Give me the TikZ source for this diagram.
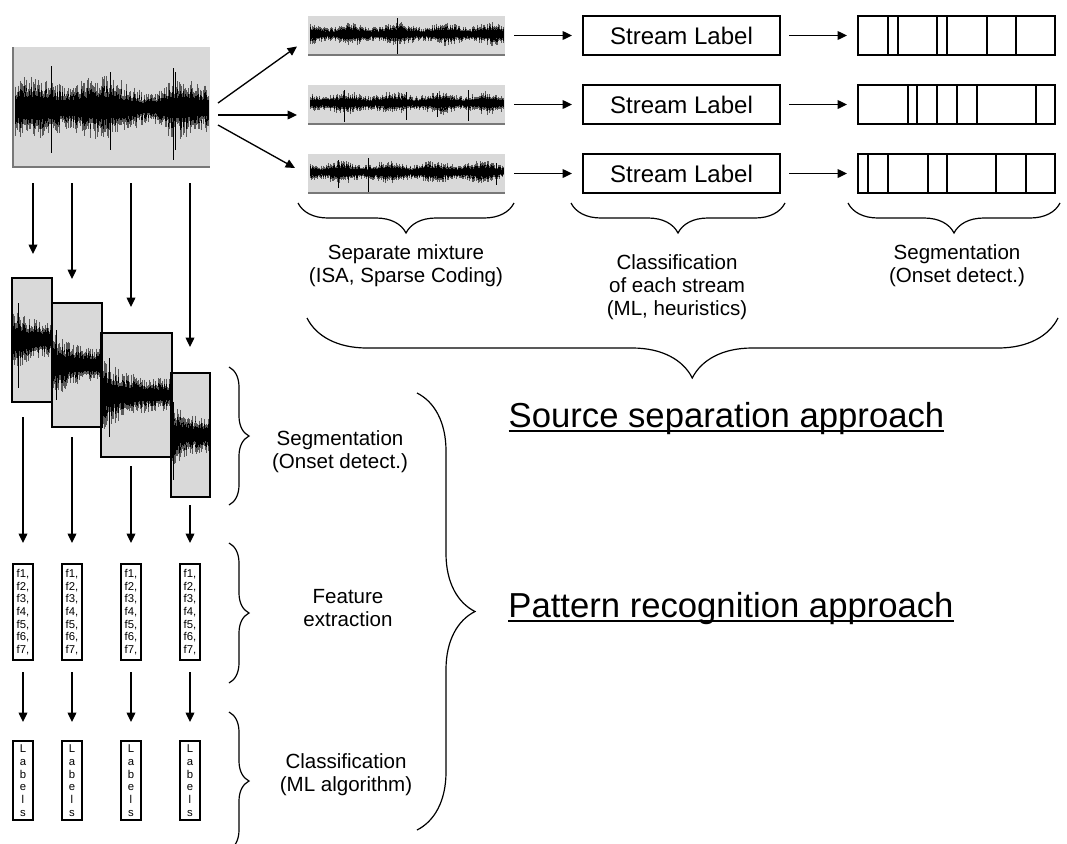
\documentclass[tikz,border=0pt]{standalone}
\usepackage{fontspec}
\setmainfont{Liberation Sans}
\usetikzlibrary{arrows.meta,decorations.pathreplacing}
\definecolor{panel}{RGB}{217,217,217}
\definecolor{rim}{RGB}{120,120,120}

% random audio trace: x0, x1, centre y, amplitude, strokes, seed, envelope (in \wt)
\newcommand\audiotrace[7]{%
  \pgfmathsetseed{#6}%
  \foreach \k in {0,...,#5}{%
    \pgfmathsetmacro\wt{\k/#5}%
    \pgfmathsetmacro\wx{#1+(#2-#1)*\wt}%
    \pgfmathsetmacro\we{#7}%
    \pgfmathsetmacro\wr{rnd}%
    \pgfmathsetmacro\wu{#4*\we*(0.45+0.55*\wr*sqrt(\wr))}%
    \pgfmathsetmacro\wr{rnd}%
    \pgfmathsetmacro\wd{#4*\we*(0.45+0.55*\wr*sqrt(\wr))}%
    \draw[tracesoft] (\wx,#3-\wu) -- (\wx,#3+\wd);%
    \draw[trace] (\wx,#3-0.7*\wu) -- (\wx,#3+0.7*\wd);%
  }%
}

\begin{document}
\begin{tikzpicture}[x=0.75pt,y=-0.75pt,
  every node/.style={inner sep=0pt,outer sep=0pt},
  trace/.style={line width=0.55pt},
  tracesoft/.style={line width=0.55pt,black!65},
  panelbox/.style={fill=panel,anchor=north west},
  framebox/.style={draw,line width=1.1pt,anchor=north west},
  arr/.style={line width=1pt,-{Triangle[length=7pt,width=6.5pt]}},
  brc/.style={decorate,decoration={brace,amplitude=#1},line width=0.9pt},
  midtext/.style={align=center,font=\fontsize{15.4}{17.3}\selectfont},
  labeltext/.style={font=\fontsize{18}{21}\selectfont},
  bigtext/.style={font=\fontsize{26}{30}\selectfont,anchor=base},
  tinytext/.style={align=center,font=\fontsize{8.5}{9.5}\selectfont},
  divider/.style={line width=0.9pt}
]
\useasboundingbox (0,0) rectangle (1067,843);

% ---------- the mixture ----------
\node[panelbox,minimum width=147.75pt,minimum height=90pt] (main) at (13,47) {};
\begin{scope}
  \clip (main.south west) rectangle (main.north east);
  \audiotrace{15}{208}{108}{34}{280}{11}{0.85+0.15*sin(\wt*1000)-0.4*exp(-min((\wt-0.72)*(\wt-0.72)/0.0064,9))}
  \draw[trace] (51,66) -- (51,153);
  \draw[trace] (110,72) -- (110,150);
  \draw[trace] (173,68) -- (173,160);
  \draw[trace] (175,72) -- (175,150);
\end{scope}
\draw[rim,line width=1pt] (main.north west) -- (main.south west) -- (main.south east);

% ---------- separated streams ----------
\foreach \i/\y/\s in {1/16/21,2/85/22,3/154/23}{
  \node[panelbox,minimum width=147.75pt,minimum height=29.25pt] (s\i) at (308,\y) {};
  \begin{scope}
    \clip (s\i.south west) rectangle (s\i.north east);
    \pgfmathsetmacro\yc{\y+18}
    \audiotrace{310}{503}{\yc}{12}{280}{\s}{0.8+0.2*sin(\wt*1500+\s*40)}
  \end{scope}
  \draw[rim,line width=1pt] (s\i.south west) -- (s\i.south east);
}
\begin{scope}
  \clip (s1.south west) rectangle (s1.north east);
  \draw[trace] (397,18) -- (397,54);
\end{scope}
\begin{scope}
  \clip (s2.south west) rectangle (s2.north east);
  \draw[trace] (344,90) -- (344,122);
  \draw[trace] (406,92) -- (406,120);
  \draw[trace] (437,93) -- (437,117);
  \draw[trace] (468,90) -- (468,121);
\end{scope}
\begin{scope}
  \clip (s3.south west) rectangle (s3.north east);
  \draw[trace] (338,160) -- (338,188);
  \draw[trace] (368,158) -- (368,192);
  \draw[trace] (496,163) -- (496,185);
\end{scope}

% ---------- stream labels ----------
\foreach \i/\y in {1/16,2/85,3/154}{
  \node[framebox,labeltext,minimum width=147.75pt,minimum height=29.25pt] (l\i) at (583,\y) {Stream Label};
}

% ---------- segmented streams ----------
\foreach \i/\y in {1/16,2/85,3/154}{
  \node[framebox,minimum width=147.75pt,minimum height=29.25pt] (g\i) at (858,\y) {};
}
\foreach \x in {888,898,937,947,987,1016} \draw[divider] (\x,16) -- (\x,55);
\foreach \x in {908,917,937,957,977,1036} \draw[divider] (\x,85) -- (\x,124);
\foreach \x in {868,888,928,947,996,1026} \draw[divider] (\x,154) -- (\x,193);

% ---------- arrows of the separation path ----------
\draw[arr] ([shift={(8,-4)}]main.east) -- ([shift={(-11,11)}]s1.west);
\draw[arr] ([shift={(8,8)}]main.east) -- ([shift={(-11,10.5)}]s2.west);
\draw[arr] ([shift={(8,18)}]main.east) -- ([shift={(-13,-5.5)}]s3.west);
\foreach \i in {1,2,3}{
  \draw[arr,shorten <=6.75pt,shorten >=8.25pt] (s\i.east) -- (l\i.west);
  \draw[arr,shorten <=6.75pt,shorten >=8.25pt] (l\i.east) -- (g\i.west);
}

% ---------- braces and captions of the separation path ----------
\draw[brc=22.5pt] (514,203) -- (298,203);
\draw[brc=22.5pt] (785,203) -- (571,203);
\draw[brc=22.5pt] (1060,203) -- (848,203);
\node[midtext] (capsep) at (406,266) {Separate mixture\\(ISA, Sparse Coding)};
\node[midtext] (capcls) at (677,287) {Classification\\of each stream\\(ML, heuristics)};
\node[midtext] (capseg) at (957,266) {Segmentation\\(Onset detect.)};
\draw[brc=45pt,decoration={aspect=0.487}] (1058,318) -- (307,318);
\node[bigtext] (srcsep) at (726.5,427) {Source separation approach};
\draw[line width=1.6pt] ([yshift=-3.2pt]srcsep.base west) -- ([yshift=-3.2pt]srcsep.base east);

% ---------- onset segments ----------
\node[panelbox,minimum width=30pt,minimum height=93pt] (seg1) at (12,278) {};
\node[panelbox,minimum width=37.5pt,minimum height=93pt] (seg2) at (52,303) {};
\node[panelbox,minimum width=53.25pt,minimum height=93pt] (seg3) at (101,333) {};
\node[panelbox,minimum width=29.25pt,minimum height=93pt] (seg4) at (171,373) {};
\begin{scope}
  \clip (seg1.south west) rectangle (seg1.north east);
  \audiotrace{13}{51}{340}{38}{55}{31}{0.45+0.55*exp(-3*\wt)}
  \draw[trace] (18,303) -- (18,388);
\end{scope}
\begin{scope}
  \clip (seg2.south west) rectangle (seg2.north east);
  \audiotrace{53}{101}{365}{36}{70}{32}{0.45+0.55*exp(-3*\wt)}
  \draw[trace] (56,330) -- (56,400);
\end{scope}
\begin{scope}
  \clip (seg3.south west) rectangle (seg3.north east);
  \audiotrace{102}{171}{395}{38}{100}{33}{0.4+0.6*exp(-3*\wt)}
  \draw[trace] (109,358) -- (109,437);
\end{scope}
\begin{scope}
  \clip (seg4.south west) rectangle (seg4.north east);
  \audiotrace{172}{209}{435}{34}{55}{34}{0.5+0.5*exp(-3*\wt)}
  \draw[trace] (173,402) -- (173,480);
\end{scope}
\foreach \i in {1,...,4}{
  \draw[line width=1.1pt] (seg\i.south west) rectangle (seg\i.north east);
}

% ---------- feature vectors and labels ----------
\foreach \i/\x in {1/13,2/62,3/121,4/180}{
  \node[framebox,tinytext,minimum width=15pt,minimum height=72pt,line width=1pt] (f\i) at (\x,564)
    {f1,\\f2,\\f3,\\f4,\\f5,\\f6,\\f7,};
  \node[framebox,tinytext,minimum width=15pt,minimum height=59.25pt,line width=1pt] (b\i) at (\x,741)
    {L\\a\\b\\e\\l\\s};
}

% ---------- arrows of the recognition path ----------
\coordinate (t1) at (seg1.north |- main.south);
\coordinate (t2) at (seg2.north |- main.south);
\coordinate (t3) at (seg3.north |- main.south);
\coordinate (t4) at (seg4.north |- main.south);
\draw[arr] ([shift={(1,16)}]t1) -- ([shift={(1,-24)}]seg1.north);
\draw[arr] ([shift={(-5,16)}]t2) -- ([shift={(-5,-24)}]seg2.north);
\draw[arr] ([shift={(-5.5,16)}]t3) -- ([shift={(-5.5,-26)}]seg3.north);
\draw[arr] ([shift={(-0.5,16)}]t4) -- ([shift={(-0.5,-26)}]seg4.north);
\draw[arr,shorten <=11.25pt,shorten >=15.75pt] (f1.north |- seg1.south) -- (f1.north);
\draw[arr,shorten <=7.5pt,shorten >=15.75pt] (f2.north |- seg2.south) -- (f2.north);
\draw[arr,shorten <=6.75pt,shorten >=15.75pt] (f3.north |- seg3.south) -- (f3.north);
\draw[arr,shorten <=6pt,shorten >=15.75pt] (f4.north |- seg4.south) -- (f4.north);
\foreach \i in {1,...,4}{
  \draw[arr,shorten <=9pt,shorten >=14.25pt] (f\i.south) -- (b\i.north);
}

% ---------- braces and captions of the recognition path ----------
\draw[brc=15pt] (229,367) -- (229,505);
\draw[brc=15pt] (229,543) -- (229,683);
\draw[brc=15pt] (229,712) -- (229,850);
\node[midtext] (steps) at (340,452) {Segmentation\\(Onset detect.)};
\node[midtext] (stepf) at (348,608) {Feature\\extraction};
\node[midtext] (stepc) at (346,775) {Classification\\(ML algorithm)};
\draw[brc=43.5pt] (417,393) -- (417,830);
\node[bigtext] (patrec) at (731,617) {Pattern recognition approach};
\draw[line width=1.6pt] ([yshift=-3.2pt]patrec.base west) -- ([yshift=-3.2pt]patrec.base east);
\end{tikzpicture}
\end{document}
